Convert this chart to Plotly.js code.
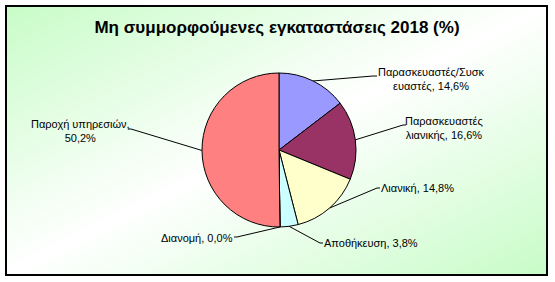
<!DOCTYPE html>
<html>
<head>
<meta charset="utf-8">
<script src="https://cdn.plot.ly/plotly-3.0.1.min.js"></script>
<style>
  html, body { margin: 0; padding: 0; background: #ffffff; }
  #wrap { position: relative; width: 555px; height: 282px; overflow: hidden; background: #ffffff; }
  #bg { position: absolute; left: 5px; top: 5px; width: 543px; height: 271px; box-sizing: border-box;
        border: 2px solid #000000;
        background: linear-gradient(to bottom right, #c8fcc8 0%, #ffffff 50%, #c8fcc8 100%); }
  #chart { position: absolute; left: 0; top: 0; width: 555px; height: 282px; }
</style>
</head>
<body>
<div id="wrap"><div id="bg"></div><div id="chart"></div></div>
<script>
// ---- data ----
const categories = ['Παρασκευαστές/Συσκευαστές', 'Παρασκευαστές λιανικής', 'Λιανική', 'Αποθήκευση', 'Διανομή', 'Παροχή υπηρεσιών'];
const values = [14.6, 16.6, 14.8, 3.8, 0.0, 50.2];
const colors = ['#9999FF', '#993366', '#FFFFCC', '#CCFFFF', '#660066', '#FF8080'];
const chartTitle = 'Μη συμμορφούμενες εγκαταστάσεις 2018 (%)';
// character position at which each label wraps (null = no wrap)
const wrapAt = [18, 14, null, null, null, 18];

// ---- layout constants (pixels) ----
const W = 555, H = 282;
const PIE_CX = 279, PIE_CY = 150, PIE_R = 77;
const labelPos = [
  {elbow: [373, 76],  stub: [377, 76],  x: 431, y: 79,  xanchor: 'center'},
  {elbow: [403, 125], stub: [406, 125], x: 444, y: 128, xanchor: 'center'},
  {elbow: [377, 188], stub: [380, 188], x: 379, y: 188, xanchor: 'left'},
  {elbow: [320, 243], stub: [323, 243], x: 322, y: 243, xanchor: 'left'},
  {elbow: [237, 237], stub: [234, 237], x: 235, y: 238, xanchor: 'right'},
  {elbow: [131, 129], stub: [128, 129], x: 80,  y: 131, xanchor: 'center'}
];

const px = v => v / W;
const py = v => 1 - v / H;
const fmt = v => v.toFixed(1).replace('.', ',') + '%';

const total = values.reduce((a, b) => a + b, 0);
const shapes = [];
const annotations = [];
let cum = 0;
values.forEach((v, i) => {
  const mid = (cum + v / 2) / total;
  cum += v;
  const ang = 2 * Math.PI * mid;
  const ex = PIE_CX + PIE_R * Math.sin(ang);
  const ey = PIE_CY - PIE_R * Math.cos(ang);
  const L = labelPos[i];
  shapes.push({
    type: 'path', xref: 'paper', yref: 'paper',
    path: `M ${px(ex)} ${py(ey)} L ${px(L.elbow[0])} ${py(L.elbow[1])} L ${px(L.stub[0])} ${py(L.stub[1])}`,
    line: {color: '#000000', width: 1}
  });
  let txt = categories[i] + ', ' + fmt(v);
  if (wrapAt[i] !== null) {
    txt = txt.slice(0, wrapAt[i]).trim() + '<br>' + txt.slice(wrapAt[i]).trim();
  }
  annotations.push({
    xref: 'paper', yref: 'paper', x: px(L.x), y: py(L.y),
    xanchor: L.xanchor, yanchor: 'middle', align: 'center',
    text: txt, showarrow: false,
    font: {family: 'Arial, "Liberation Sans", sans-serif', size: 11, color: '#000000'}
  });
});

const trace = {
  type: 'pie',
  labels: categories,
  values: values,
  sort: false,
  direction: 'clockwise',
  rotation: 0,
  textinfo: 'none',
  hoverinfo: 'label+percent',
  marker: {colors: colors, line: {color: '#000000', width: 1}},
  domain: {x: [px(PIE_CX - PIE_R), px(PIE_CX + PIE_R)], y: [py(PIE_CY + PIE_R), py(PIE_CY - PIE_R)]},
  showlegend: false
};

const layout = {
  width: W, height: H,
  margin: {l: 0, r: 0, t: 0, b: 0},
  paper_bgcolor: 'rgba(0,0,0,0)',
  plot_bgcolor: 'rgba(0,0,0,0)',
  showlegend: false,
  title: {
    text: chartTitle,
    x: 277 / W, xanchor: 'center',
    y: 1 - 27 / H, yanchor: 'middle',
    font: {family: 'Arial, "Liberation Sans", sans-serif', size: 17, weight: 'bold', color: '#000000'}
  },
  shapes: shapes,
  annotations: annotations
};

Plotly.newPlot('chart', [trace], layout, {displayModeBar: false, staticPlot: true});
</script>
</body>
</html>
